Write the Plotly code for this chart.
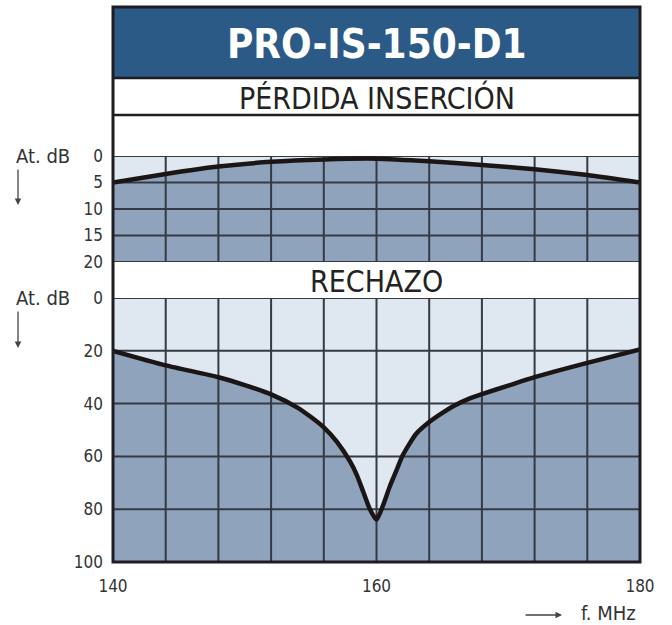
import plotly.graph_objects as go

# ---------------- data ----------------
title_text = "PRO-IS-150-D1"
top_label = "PÉRDIDA INSERCIÓN"
bottom_label = "RECHAZO"

# insertion loss (dB) vs frequency (MHz)
il_freq = [140, 144, 148, 152, 156, 160, 164, 168, 172, 176, 180]
il_db = [5.0, 3.4, 2.0, 1.1, 0.65, 0.5, 1.0, 1.7, 2.5, 3.6, 5.0]

# rejection (dB) vs frequency (MHz)
rej_freq = [140, 144, 148, 150, 152, 154, 155, 156, 157, 158, 158.5, 159, 159.5,
            160, 160.5, 161, 161.5, 162, 163, 164, 165, 166, 167, 168, 170, 172, 176, 180]
rej_db = [20, 25.5, 30, 33, 36.5, 41.5, 45, 49, 54.5, 62, 67, 73.5, 80,
          84, 78.5, 71.5, 65.5, 59.5, 51.5, 47, 43.5, 40.5, 38.2, 36.4, 33.2, 30, 24.6, 19.5]

grid_x = [140, 144, 148, 152, 156, 160, 164, 168, 172, 176, 180]
top_ticks = [0, 5, 10, 15, 20]
bottom_ticks = [0, 20, 40, 60, 80, 100]
x_ticks = [140, 160, 180]

# ---------------- style ----------------
BLUE = "#2c5a86"
DARK = "#8fa4bc"
LIGHT = "#dfe7f0"
GRID = "#353a42"
FRAME = "#1e1e22"
CURVE = "#1c1515"
TXT = "#333333"
FONT = "DejaVu Sans Condensed, Liberation Sans Narrow, Liberation Sans, sans-serif"

W, H = 672, 625
ML, MR, MT, MB = 113, 32, 7, 63
PW, PH = W - ML - MR, H - MT - MB


def py(Y):  # pixel row -> paper y
    return (H - MB - Y) / PH


def px(X):  # pixel col -> paper x
    return (X - ML) / PW


fig = go.Figure()


def panel(xa, ya, fx, fy, ymax, yticks):
    fig.add_trace(go.Scatter(x=[grid_x[0], grid_x[-1]], y=[ymax, ymax], mode="lines",
                             line=dict(width=0, color=DARK), xaxis=xa, yaxis=ya,
                             hoverinfo="skip", showlegend=False))
    fig.add_trace(go.Scatter(x=fx, y=fy, mode="lines", fill="tonexty", fillcolor=DARK,
                             line=dict(width=0, shape="spline", smoothing=0.6),
                             xaxis=xa, yaxis=ya, hoverinfo="skip", showlegend=False))
    gx, gy = [], []
    for g in grid_x:
        gx += [g, g, None]
        gy += [yticks[0], yticks[-1], None]
    for t in yticks:
        gx += [grid_x[0], grid_x[-1], None]
        gy += [t, t, None]
    fig.add_trace(go.Scatter(x=gx, y=gy, mode="lines", line=dict(width=2, color=GRID),
                             xaxis=xa, yaxis=ya, hoverinfo="skip", showlegend=False))
    fig.add_trace(go.Scatter(x=fx, y=fy, mode="lines",
                             line=dict(width=4.5, color=CURVE, shape="spline", smoothing=0.6),
                             xaxis=xa, yaxis=ya, showlegend=False, cliponaxis=True))


panel("x", "y", il_freq, il_db, top_ticks[-1], top_ticks)
panel("x2", "y2", rej_freq, rej_db, bottom_ticks[-1], bottom_ticks)

axfont = dict(family=FONT, size=17, color=TXT)
fig.update_layout(
    width=W, height=H,
    margin=dict(l=ML, r=MR, t=MT, b=MB, pad=0, autoexpand=False),
    paper_bgcolor="white", plot_bgcolor=LIGHT,
    showlegend=False,
    xaxis=dict(domain=[0, 1], range=[140, 180], anchor="y", showgrid=False, automargin=False,
               zeroline=False, showticklabels=False, showline=False),
    yaxis=dict(domain=[py(262), py(156)], range=[20, 0], tickvals=top_ticks, automargin=False,
               showgrid=False, zeroline=False, tickfont=axfont, ticklabelstandoff=9,
               showline=False),
    xaxis2=dict(domain=[0, 1], range=[140, 180], anchor="y2", tickvals=x_ticks, automargin=False,
                showgrid=False, zeroline=False, tickfont=axfont, ticklabelstandoff=12,
                showline=False),
    yaxis2=dict(domain=[0, py(298)], range=[100, 0], tickvals=bottom_ticks, anchor="x2",
                automargin=False,
                showgrid=False, zeroline=False, tickfont=axfont, ticklabelstandoff=9,
                showline=False),
)

shapes = []
shapes.append(dict(type="rect", xref="paper", yref="paper", x0=0, x1=1, y0=py(78), y1=1,
                   fillcolor=BLUE, line=dict(width=0), layer="below"))
for Y in [78, 115]:
    shapes.append(dict(type="line", xref="paper", yref="paper", x0=0, x1=1, y0=py(Y), y1=py(Y),
                       line=dict(color=FRAME, width=2.5), layer="above"))
shapes.append(dict(type="rect", xref="paper", yref="paper", x0=0, x1=1, y0=0, y1=1,
                   line=dict(color=FRAME, width=3), layer="above"))
fig.update_layout(shapes=shapes)

ann = [
    dict(text=title_text, x=0.5, y=py(44), xref="paper", yref="paper", showarrow=False,
         font=dict(family=FONT, size=40, color="white", weight="bold"), xanchor="center",
         yanchor="middle"),
    dict(text=top_label, x=0.5, y=py(98), xref="paper", yref="paper", showarrow=False,
         font=dict(family=FONT, size=30, color="#222222"), xanchor="center", yanchor="middle"),
    dict(text=bottom_label, x=0.5, y=py(281), xref="paper", yref="paper", showarrow=False,
         font=dict(family=FONT, size=30, color="#222222"), xanchor="center", yanchor="middle"),
    dict(text="At. dB", x=px(14), y=py(156), xref="paper", yref="paper", showarrow=False,
         font=dict(family=FONT, size=20, color=TXT), xanchor="left", yanchor="middle"),
    dict(text="At. dB", x=px(14), y=py(298), xref="paper", yref="paper", showarrow=False,
         font=dict(family=FONT, size=20, color=TXT), xanchor="left", yanchor="middle"),
    dict(text="", x=px(18), y=py(205), xref="paper", yref="paper", showarrow=True,
         ax=0, ay=-37, arrowhead=2, arrowsize=1, arrowwidth=1.3, arrowcolor="#444444"),
    dict(text="", x=px(18), y=py(348), xref="paper", yref="paper", showarrow=True,
         ax=0, ay=-38, arrowhead=2, arrowsize=1, arrowwidth=1.3, arrowcolor="#444444"),
    dict(text="", x=px(562), y=py(615), xref="paper", yref="paper", showarrow=True,
         ax=-38, ay=0, arrowhead=2, arrowsize=1, arrowwidth=1.3, arrowcolor="#444444"),
    dict(text="f. MHz", x=px(579), y=py(613), xref="paper", yref="paper", showarrow=False,
         font=dict(family=FONT, size=20, color=TXT), xanchor="left", yanchor="middle"),
]
fig.update_layout(annotations=ann)

fig.write_html("out.html", config={"displayModeBar": False},
               post_script="document.body.style.margin='0';document.body.style.padding='0';")
